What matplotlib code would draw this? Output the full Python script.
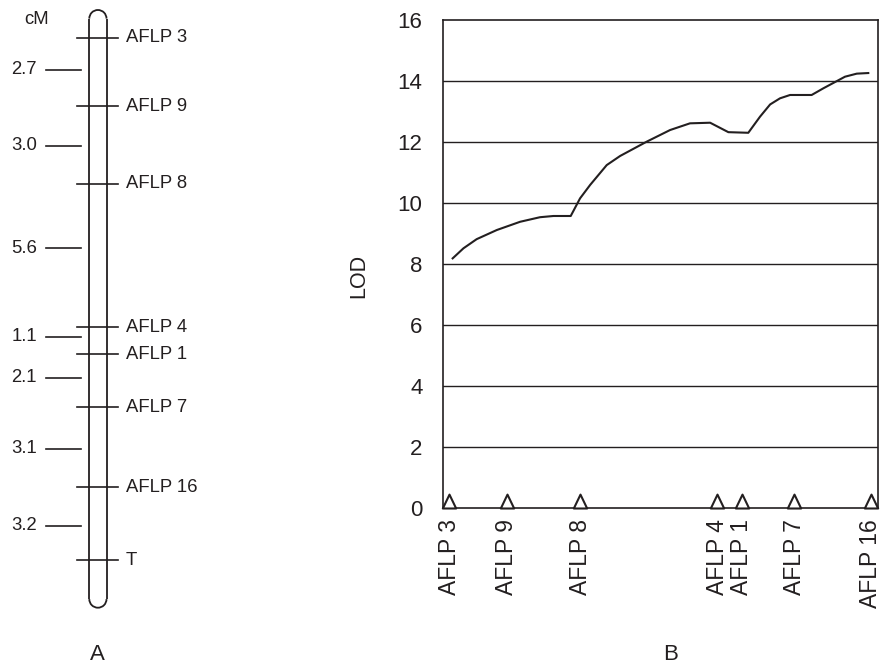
import matplotlib
matplotlib.use("Agg")
import matplotlib.pyplot as plt
from matplotlib.patches import Arc
from matplotlib.path import Path

plt.rcParams['font.family'] = ['Liberation Sans', 'DejaVu Sans']
INK = '#231f20'

# ---- Panel A data (linkage map) ----
map_markers = ['AFLP 3', 'AFLP 9', 'AFLP 8', 'AFLP 4', 'AFLP 1', 'AFLP 7', 'AFLP 16', 'T']
map_pos = [0.0, 2.70, 5.75, 11.40, 12.46, 14.55, 17.69, 20.57]     # position along map (cM)
interval_labels = ['2.7', '3.0', '5.6', '1.1', '2.1', '3.1', '3.2']
interval_pos = [1.27, 4.25, 8.29, 11.78, 13.39, 16.19, 19.21]

# ---- Panel B data (LOD profile) ----
lod_markers = ['AFLP 3', 'AFLP 9', 'AFLP 8', 'AFLP 4', 'AFLP 1', 'AFLP 7', 'AFLP 16']
lod_marker_x = [0.0, 2.40, 5.46, 11.18, 12.20, 14.39, 17.58]
curve_x = [0.15, 0.60, 1.15, 1.99, 2.96, 3.79, 4.35, 5.07, 5.46, 5.88, 6.57, 7.13,
           8.24, 9.21, 10.04, 10.88, 11.64, 12.47, 12.96, 13.38, 13.79, 14.21,
           15.11, 15.60, 16.50, 16.99, 17.47]
curve_lod = [8.18, 8.51, 8.81, 9.11, 9.38, 9.53, 9.57, 9.57, 10.15, 10.59, 11.24, 11.54,
             12.01, 12.39, 12.61, 12.63, 12.32, 12.30, 12.83, 13.23, 13.43, 13.54,
             13.54, 13.76, 14.14, 14.24, 14.26]
y_ticks = [0, 2, 4, 6, 8, 10, 12, 14, 16]

W, H = 883, 666
fig = plt.figure(figsize=(W / 100, H / 100), dpi=100)

# ---------------- Panel A ----------------
px_per_cM = 25.4
y0_px = 37.7
axA = fig.add_axes([0, 0, 265 / W, 1])
axA.set_xlim(0, 265)
axA.set_ylim((H - y0_px) / px_per_cM, -y0_px / px_per_cM)
axA.axis('off')

xl, xr = 89.3, 106.5
r = (xr - xl) / 2
xc = (xl + xr) / 2
top_c = (18.6 - y0_px) / px_per_cM
bot_c = (599.1 - y0_px) / px_per_cM
lw_c = 1.3
axA.plot([xl, xl], [top_c, bot_c], color=INK, lw=lw_c, solid_capstyle='butt')
axA.plot([xr, xr], [top_c, bot_c], color=INK, lw=lw_c, solid_capstyle='butt')
# y axis is inverted, so the upper cap uses angles 180..360 in data space
axA.add_patch(Arc((xc, top_c), 2 * r, 2 * r / px_per_cM, theta1=180, theta2=360,
                  color=INK, lw=lw_c))
axA.add_patch(Arc((xc, bot_c), 2 * r, 2 * r / px_per_cM, theta1=0, theta2=180,
                  color=INK, lw=lw_c))

for name, p in zip(map_markers, map_pos):
    axA.plot([77.3, 118.3], [p, p], color=INK, lw=1.2)
    axA.text(126, p, name, ha='left', va='center', fontsize=13.3, color=INK)

for lab, p in zip(interval_labels, interval_pos):
    axA.plot([45.7, 80.7], [p, p], color=INK, lw=1.2)
    axA.text(37, p, lab, ha='right', va='center', fontsize=13.3, color=INK)

axA.text(36.5, (19.7 - y0_px) / px_per_cM, 'cM', ha='center', va='center',
         fontsize=13.3, color=INK)

# ---------------- Panel B ----------------
left, right = 443.3, 878.0
top, bottom = 20.0, 507.7
axB = fig.add_axes([left / W, 1 - bottom / H, (right - left) / W, (bottom - top) / H])
axB.set_xlim(-0.24, 17.875)
axB.set_ylim(0, 16)
axB.set_yticks(y_ticks)
axB.set_yticklabels([str(v) for v in y_ticks])
axB.tick_params(axis='y', length=0, pad=15, labelsize=16, labelcolor=INK)
axB.set_xticks(lod_marker_x)
axB.set_xticklabels(lod_markers, rotation=90, va='top', ha='center')
axB.tick_params(axis='x', length=0, pad=8, labelsize=16.5, labelcolor=INK)
for s in axB.spines.values():
    s.set_color(INK)
    s.set_linewidth(1.2)
for v in y_ticks[1:-1]:
    axB.axhline(v, color=INK, lw=1.0, zorder=1)

axB.plot(curve_x, curve_lod, color=INK, lw=1.5, zorder=3)

tri = Path([(-0.48, 0), (0.48, 0), (0, 1), (-0.48, 0)],
           [Path.MOVETO, Path.LINETO, Path.LINETO, Path.CLOSEPOLY])
axB.plot(lod_marker_x, [0] * len(lod_marker_x), linestyle='none', marker=tri,
         markersize=20, markerfacecolor='white', markeredgecolor=INK,
         markeredgewidth=1.5, clip_on=False, zorder=5)

axB.set_ylabel('LOD', fontsize=15.5, color=INK, labelpad=20)
axB.yaxis.set_label_coords((369 - left) / (right - left), (bottom - 275.7) / (bottom - top))

fig.text(97.3 / W, 1 - 655 / H, 'A', ha='center', va='center', fontsize=16, color=INK)
fig.text(671 / W, 1 - 655 / H, 'B', ha='center', va='center', fontsize=16, color=INK)

fig.savefig('out.png', dpi=100)
